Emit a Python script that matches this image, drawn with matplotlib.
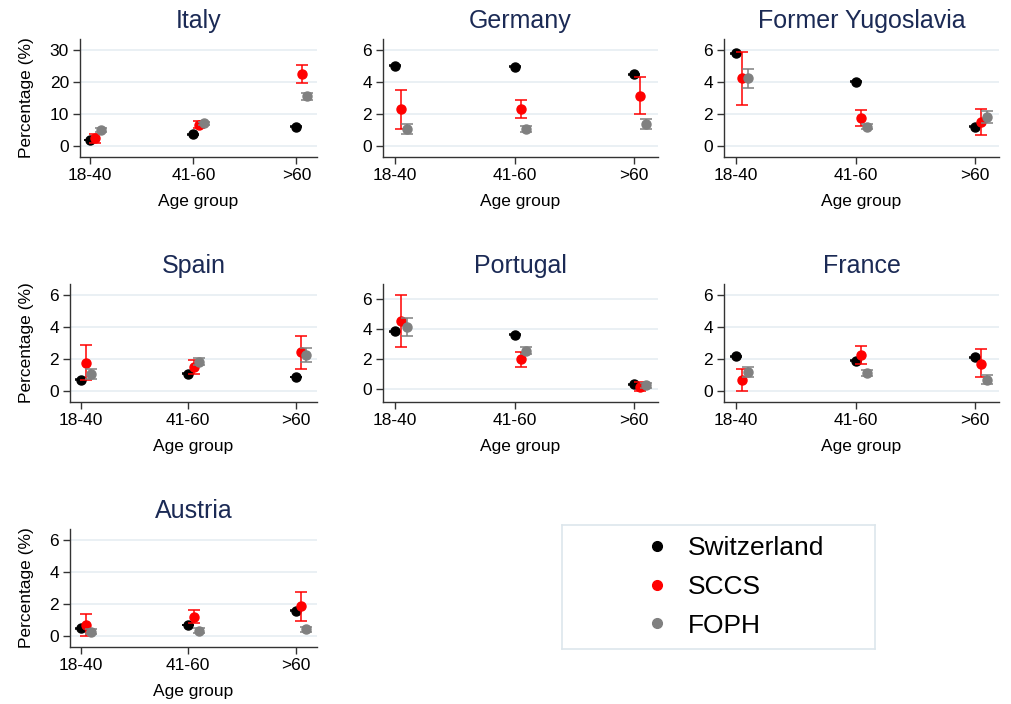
import matplotlib
matplotlib.use("Agg")
import matplotlib.pyplot as plt
from matplotlib.lines import Line2D
import numpy as np

plt.rcParams['font.family'] = ['Liberation Sans', 'DejaVu Sans']

countries = ["Italy", "Germany", "Former Yugoslavia", "Spain", "Portugal", "France", "Austria"]
age_groups = ["18-40", "41-60", ">60"]
series_names = ["Switzerland", "SCCS", "FOPH"]

swiss_est = [[1.9, 3.7, 6.1], [5.0, 4.93, 4.47], [5.79, 4.01, 1.19], [0.71, 1.07, 0.86],
             [3.86, 3.64, 0.33], [2.15, 1.88, 2.11], [0.48, 0.69, 1.57]]
swiss_lo = [[1.75, 3.55, 5.95], [4.97, 4.9, 4.44], [5.76, 3.98, 1.16], [0.69, 1.05, 0.84],
            [3.83, 3.61, 0.31], [2.12, 1.85, 2.08], [0.46, 0.67, 1.54]]
swiss_hi = [[2.05, 3.85, 6.25], [5.03, 4.96, 4.5], [5.82, 4.04, 1.22], [0.73, 1.09, 0.88],
            [3.89, 3.67, 0.35], [2.18, 1.91, 2.14], [0.5, 0.71, 1.6]]

sccs_est = [[2.6, 6.7, 22.5], [2.3, 2.32, 3.12], [4.22, 1.74, 1.5], [1.76, 1.48, 2.4],
            [4.57, 1.99, 0.18], [0.71, 2.24, 1.71], [0.69, 1.21, 1.84]]
sccs_lo = [[1.1, 5.6, 19.6], [1.07, 1.76, 1.97], [2.57, 1.23, 0.67], [0.67, 1.05, 1.36],
           [2.83, 1.45, -0.13], [0.0, 1.69, 0.86], [0.0, 0.79, 0.94]]
sccs_hi = [[3.8, 7.8, 25.4], [3.51, 2.89, 4.27], [5.85, 2.24, 2.32], [2.84, 1.92, 3.43],
           [6.29, 2.5, 0.49], [1.38, 2.8, 2.59], [1.38, 1.63, 2.74]]

foph_est = [[5.1, 7.2, 15.5], [1.05, 1.05, 1.38], [4.22, 1.21, 1.82], [1.05, 1.82, 2.22],
            [4.15, 2.57, 0.25], [1.19, 1.11, 0.71], [0.27, 0.33, 0.42]]
foph_lo = [[4.4, 6.7, 14.4], [0.75, 0.88, 1.07], [3.64, 1.05, 1.44], [0.75, 1.61, 1.8],
           [3.57, 2.32, 0.09], [0.88, 0.94, 0.46], [0.1, 0.19, 0.23]]
foph_hi = [[5.7, 7.6, 16.6], [1.34, 1.23, 1.71], [4.79, 1.38, 2.2], [1.38, 2.05, 2.66],
           [4.73, 2.83, 0.4], [1.48, 1.28, 0.98], [0.44, 0.5, 0.56]]

yticks_list = [[0, 10, 20, 30], [0, 2, 4, 6], [0, 2, 4, 6], [0, 2, 4, 6],
               [0, 2, 4, 6], [0, 2, 4, 6], [0, 2, 4, 6]]
ylims = [(-3.4, 33.4), (-0.69, 6.67), (-0.69, 6.67), (-0.69, 6.67),
         (-0.85, 7.0), (-0.69, 6.67), (-0.69, 6.67)]

# pixel boxes: left, top, right, bottom
W, H = 1011, 704
boxes = [(80, 39, 317, 157), (383, 39, 658, 157), (724, 39, 999, 157),
         (70, 284, 317, 402), (383, 284, 658, 402), (724, 284, 999, 402),
         (70, 529, 317, 647)]

colors = ["black", "#FF0000", "#808080"]
offsets = [0.0, 0.05, 0.10]
title_color = "#1B2A55"
grid_color = "#E6EEF2"
axis_color = "#333333"

fig = plt.figure(figsize=(W / 100, H / 100), dpi=100)

series = [(swiss_est, swiss_lo, swiss_hi), (sccs_est, sccs_lo, sccs_hi), (foph_est, foph_lo, foph_hi)]

for i, name in enumerate(countries):
    l, t, r, b = boxes[i]
    ax = fig.add_axes([l / W, 1 - b / H, (r - l) / W, (b - t) / H])
    x = np.arange(len(age_groups))
    for s, (est, lo, hi) in enumerate(series):
        e = np.array(est[i]); lo_ = np.array(lo[i]); hi_ = np.array(hi[i])
        ax.errorbar(x + offsets[s], e, yerr=[e - lo_, hi_ - e], fmt='o', color=colors[s],
                    ecolor=colors[s], markersize=6.5, capsize=4.3, elinewidth=1.1,
                    capthick=1.1, zorder=3 + s)
    ax.set_xlim(-0.1, 2.2)
    ax.set_ylim(*ylims[i])
    ax.set_xticks(x)
    ax.set_xticklabels(age_groups)
    ax.set_yticks(yticks_list[i])
    ax.tick_params(axis='both', labelsize=12.5, length=5, width=1, color=axis_color, pad=3)
    ax.yaxis.grid(True, color=grid_color, linewidth=1.2, zorder=0)
    ax.set_axisbelow(True)
    for sp in ['top', 'right']:
        ax.spines[sp].set_visible(False)
    for sp in ['left', 'bottom']:
        ax.spines[sp].set_color(axis_color)
        ax.spines[sp].set_linewidth(1.0)
    ax.set_xlabel("Age group", fontsize=12.5, labelpad=8)
    if l < 100:
        ax.set_ylabel("Percentage (%)", fontsize=12.5)
        ax.yaxis.set_label_coords(34 / W, 1 - ((t + b) / 2) / H, transform=fig.transFigure)
    ax.set_title(name, fontsize=18, color=title_color, pad=8)

# legend box
lx0, ly0, lx1, ly1 = 562, 525, 875, 649
lax = fig.add_axes([lx0 / W, 1 - ly1 / H, (lx1 - lx0) / W, (ly1 - ly0) / H])
lax.set_xticks([]); lax.set_yticks([])
for sp in lax.spines.values():
    sp.set_color("#DDE6EC")
    sp.set_linewidth(1.2)
handles = [Line2D([], [], marker='o', linestyle='none', color=c, markersize=7) for c in colors]
lax.legend(handles, series_names, loc='center left', bbox_to_anchor=(0.22, 0.5),
           frameon=False, fontsize=19, borderpad=0, handlelength=1.0,
           handletextpad=0.65, labelspacing=0.55)

fig.savefig("out.png", dpi=100)
